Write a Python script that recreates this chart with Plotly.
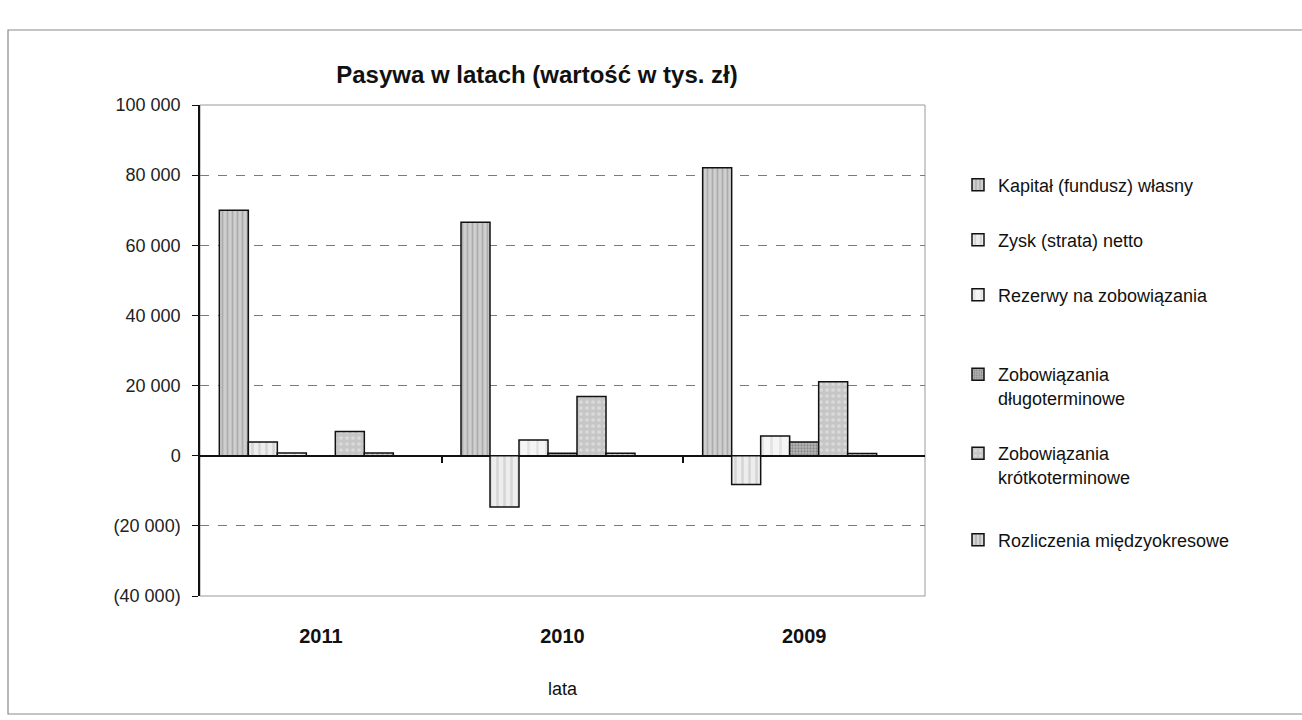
import plotly.graph_objects as go

years = ["2011", "2010", "2009"]
kapital = [70000, 66600, 82100]
zysk = [3900, -14600, -8200]
rezerwy = [800, 4500, 5600]
dlugo = [0, 700, 3900]
krotko = [6900, 16900, 21100]
rozliczenia = [800, 700, 600]
spacer = [None, None, None]  # empty 7th slot of each group (as in the original)

names = ["Kapitał (fundusz) własny", "Zysk (strata) netto", "Rezerwy na zobowiązania",
         "Zobowiązania<br>długoterminowe", "Zobowiązania<br>krótkoterminowe",
         "Rozliczenia międzyokresowe"]
series = [kapital, zysk, rezerwy, dlugo, krotko, rozliczenia]

ytickvals = [-40000, -20000, 0, 20000, 40000, 60000, 80000, 100000]
yticktext = ["(40 000)", "(20 000)", "0", "20 000", "40 000", "60 000", "80 000", "100 000"]

patterns = [
    dict(shape="|", fgcolor="#8a8a8a", bgcolor="#cfcfcf", size=5, solidity=0.35),
    dict(shape="|", fgcolor="#bdbdbd", bgcolor="#ededed", size=7, solidity=0.35),
    dict(shape="|", fgcolor="#d2d2d2", bgcolor="#f5f5f5", size=9, solidity=0.3),
    dict(shape=".", fgcolor="#5e5e5e", bgcolor="#b8b8b8", size=3, solidity=0.45),
    dict(shape=".", fgcolor="#eeeeee", bgcolor="#c6c6c6", size=6, solidity=0.3),
    dict(shape="|", fgcolor="#8c8c8c", bgcolor="#d6d6d6", size=5, solidity=0.4),
]

FONT = "Liberation Sans, Arial, sans-serif"

# plot area in px
L, R, T, B = 200, 925, 105, 596
W, H = 1302, 720
pw, ph = R - L, B - T

def px2x(px):
    return (px - L) / pw

def py2y(py):
    return (B - py) / ph

legend_y = [185, 240, 295, 386, 465, 540]

fig = go.Figure()
for i, (nm, vals) in enumerate(zip(names, series)):
    lg = "legend" if i == 0 else f"legend{i+1}"
    fig.add_trace(go.Bar(
        x=years, y=vals, name=nm,
        marker=dict(pattern=patterns[i], line=dict(color="#111111", width=1.5),
                    color=patterns[i]["bgcolor"]),
        legend=lg,
    ))
fig.add_trace(go.Bar(x=years, y=spacer, showlegend=False, marker=dict(line=dict(width=0))))
# empty trace so the zero-line tick axis is drawn
fig.add_trace(go.Scatter(x=[], y=[], xaxis="x2", yaxis="y", showlegend=False, hoverinfo="skip"))

layout_legends = {}
for i, yy in enumerate(legend_y):
    key = "legend" if i == 0 else f"legend{i+1}"
    layout_legends[key] = dict(
        x=px2x(958), y=py2y(yy), xanchor="left", yanchor="middle",
        bgcolor="rgba(0,0,0,0)", font=dict(family=FONT, size=18, color="#111"),
        valign="top", itemclick=False,
    )

fig.update_layout(
    width=W, height=H,
    margin=dict(l=L, r=W - R, t=T, b=H - B),
    paper_bgcolor="white", plot_bgcolor="white",
    barmode="group", bargap=0.16, bargroupgap=0,
    title=dict(text="<b>Pasywa w latach (wartość w tys. zł)</b>",
               x=537 / W, xref="container", xanchor="center",
               y=1 - 75 / H, yref="container", yanchor="middle",
               font=dict(family=FONT, size=24, color="#111")),
    font=dict(family=FONT, color="#111"),
    xaxis=dict(
        type="category", showgrid=False, zeroline=False,
        showline=False, ticks="outside", ticklen=22, tickcolor="rgba(0,0,0,0)",
        tickfont=dict(family=FONT, size=20, color="#111", weight="bold"),
        title=dict(text="lata", font=dict(family=FONT, size=18, color="#111"), standoff=36),
    ),
    xaxis2=dict(
        overlaying="x", anchor="free", position=(0 + 40000) / 140000,
        range=[-0.5, 2.5], showgrid=False, zeroline=False, showline=False,
        tickvals=[0.5, 1.5], ticks="outside", ticklen=6, tickcolor="#111", tickwidth=1.5,
        showticklabels=False, side="bottom",
    ),
    yaxis=dict(
        range=[-40000, 100000], tickvals=ytickvals, ticktext=yticktext,
        showgrid=True, gridcolor="#7a7a7a", griddash="dash", gridwidth=1,
        zeroline=True, zerolinecolor="#111", zerolinewidth=1.5,
        showline=True, linecolor="#111", linewidth=1.5,
        ticks="outside", ticklen=6, tickcolor="#111", ticklabelstandoff=8,
        tickfont=dict(family=FONT, size=18, color="#222"),
    ),
    shapes=[
        dict(type="rect", xref="x domain", yref="y domain", x0=0, x1=1, y0=0, y1=1,
             line=dict(color="#9a9a9a", width=1), layer="below"),
        dict(type="rect", xref="paper", yref="paper",
             x0=px2x(8), x1=px2x(1310), y0=py2y(714), y1=py2y(30),
             line=dict(color="#8a8a8a", width=1.2), layer="below"),
    ],
    **layout_legends,
)

fig.write_html("out.html", config={"displayModeBar": False},
               post_script="document.body.style.margin='0';")
